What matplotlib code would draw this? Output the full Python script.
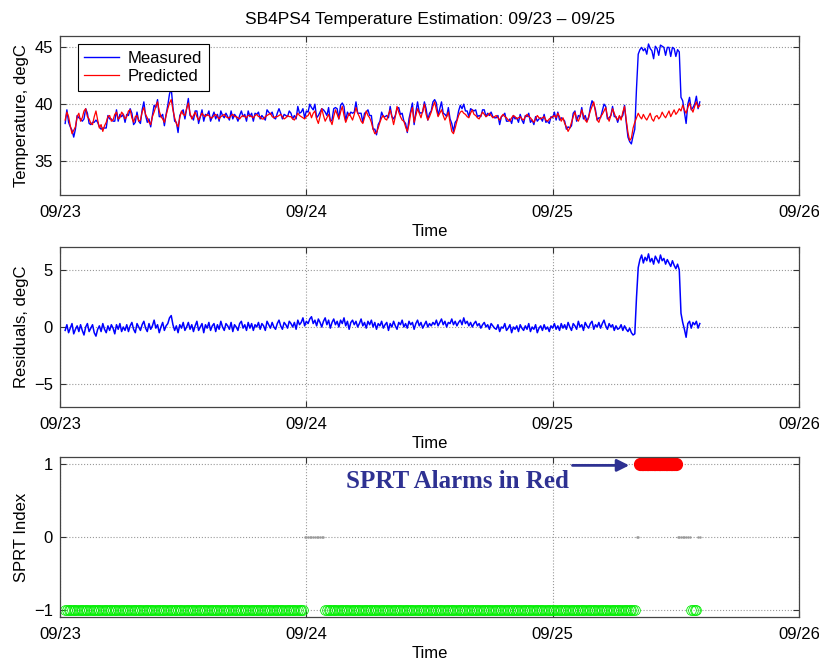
import numpy as np
import matplotlib
matplotlib.use("Agg")
import matplotlib.pyplot as plt

plt.rcParams['font.family'] = ['Liberation Sans', 'DejaVu Sans']

# sampling: every 10 minutes, starting 00:30 on 09/23
start_hour = 0.5
step_min = 10

# predicted temperature (degC), one row per 6 hours
predicted = [
    38.6, 39.3, 38.9, 38.1, 37.4, 37.7, 38.0, 38.9, 39.2, 38.5, 38.8, 39.4, 39.6, 38.9, 38.7, 38.3, 38.2, 38.9,
    39.4, 38.6, 37.9, 38.2, 37.6, 38.1, 38.4, 38.9, 39.0, 38.5, 38.6, 39.1, 39.3, 38.7, 38.8, 39.3, 39.1, 38.7,
    38.9, 39.4, 39.5, 38.8, 38.4, 38.9, 39.0, 38.5, 38.6, 39.3, 39.7, 39.1, 38.8, 38.4, 38.2, 38.9, 39.3, 39.8,
    40.2, 39.4, 38.9, 38.7, 38.4, 39.0, 39.6, 40.1, 40.4, 39.5, 38.8, 38.3, 38.0, 38.8, 39.4, 39.1, 39.0, 39.6,
    40.1, 39.2, 38.7, 39.0, 39.3, 38.9, 38.6, 38.9, 39.2, 39.0, 38.9, 39.1, 39.0, 38.8, 38.8, 39.0, 39.1, 38.9,
    38.7, 38.9, 39.0, 39.1, 38.9, 38.8, 38.8, 39.0, 39.1, 38.9, 38.9, 38.8, 38.7, 38.9, 39.0, 38.9, 38.8, 39.0,
    39.0, 38.9, 38.8, 39.0, 39.1, 38.9, 38.9, 38.7, 38.7, 38.9, 39.0, 39.1, 39.2, 38.9, 38.8, 38.9, 38.9, 39.0,
    39.1, 38.9, 38.7, 38.8, 39.0, 38.9, 38.9, 38.7, 38.6, 38.9, 39.2, 39.0, 38.9, 38.8, 38.7, 38.9, 39.0, 39.3,
    38.8, 39.2, 39.4, 38.7, 38.3, 38.9, 39.6, 39.0, 38.5, 38.8, 39.1, 38.6, 38.2, 38.9, 39.5, 39.1, 38.7, 39.3,
    39.8, 39.0, 38.4, 38.8, 39.2, 38.9, 38.6, 39.1, 39.7, 39.2, 38.9, 38.5, 38.3, 38.8, 39.4, 39.0, 38.8, 38.4,
    37.8, 37.4, 37.5, 37.9, 38.4, 38.8, 39.0, 38.7, 38.6, 39.1, 39.5, 38.9, 38.2, 38.9, 39.8, 39.3, 38.9, 38.6,
    38.5, 38.0, 37.6, 38.2, 39.2, 39.7, 38.4, 39.0, 39.6, 39.2, 38.8, 39.4, 40.0, 39.1, 38.6, 38.9, 39.3, 39.8,
    40.2, 39.5, 38.9, 39.2, 39.5, 39.0, 38.6, 38.9, 39.3, 38.4, 37.6, 37.4, 37.9, 38.5, 39.0, 39.3, 39.4, 39.2,
    39.1, 38.9, 38.8, 39.2, 39.5, 39.1, 39.0, 38.8, 38.7, 39.0, 39.3, 39.1, 38.9, 39.0, 39.2, 39.0, 38.8, 38.9,
    39.0, 38.8, 38.6, 38.9, 39.1, 38.9, 38.8, 38.6, 38.5, 38.8, 39.0, 38.9, 38.7, 38.8, 38.9, 38.7, 38.6, 38.9,
    39.1, 38.9, 38.8, 38.6, 38.4, 38.7, 39.0, 38.8, 38.7, 38.8, 38.9, 38.6, 38.5, 38.7, 38.8, 38.9, 39.0, 38.8,
    39.2, 38.9, 38.5, 38.8, 38.3, 38.0, 37.6, 37.9, 38.4, 38.9, 39.3, 38.7, 38.5, 38.9, 39.5, 39.0, 38.6, 38.4,
    38.9, 39.4, 39.8, 40.2, 39.3, 38.6, 38.4, 38.9, 39.1, 39.4, 39.7, 38.9, 38.5, 39.0, 39.6, 39.2, 38.8, 38.6,
    39.0, 38.6, 39.3, 39.8, 38.6, 37.5, 36.8, 37.0, 37.9, 38.4, 38.8, 39.2, 38.9, 38.7, 39.1, 38.8, 38.6, 38.9,
    39.2, 38.7, 38.5, 38.9, 39.0, 38.7, 38.9, 39.3, 39.0, 38.8, 39.1, 39.4, 38.9, 39.2, 39.5, 39.1, 39.3, 39.6,
    39.4, 39.9, 39.5, 39.2, 39.7, 40.1, 39.6, 39.3, 39.8, 40.2, 39.7, 39.9,
]

# residual = measured - predicted (degC)
residual = [
    -0.3, 0.2, -0.5, -0.1, 0.3, -0.6, -0.2, 0.1, -0.4, 0.2, -0.3, -0.7, 0.0, 0.3, -0.4, -0.1, 0.2, -0.5,
    -0.8, -0.2, 0.1, -0.4, 0.3, -0.2, -0.5, 0.1, -0.3, 0.2, -0.1, -0.6, 0.2, -0.2, 0.3, -0.4, 0.0, -0.3,
    0.2, -0.4, 0.1, 0.4, -0.2, -0.5, 0.3, 0.0, -0.3, 0.2, 0.5, -0.1, -0.4, 0.3, -0.2, 0.1, 0.6, -0.1,
    0.2, -0.5, 0.0, 0.4, -0.3, 0.1, 0.3, 0.8, 1.0, 0.2, -0.3, 0.1, -0.5, 0.2, -0.1, 0.4, -0.3, 0.0,
    0.4, -0.2, 0.2, -0.4, 0.1, 0.5, -0.3, 0.0, 0.3, -0.5, 0.2, -0.1, 0.4, -0.3, 0.1, 0.3, -0.4, 0.2,
    -0.2, 0.5, 0.0, -0.3, 0.3, 0.1, -0.2, 0.4, -0.4, 0.2, 0.0, -0.3, 0.3, 0.5, -0.1, 0.2, -0.3, 0.4,
    -0.1, 0.3, -0.3, 0.2, 0.0, 0.4, -0.2, 0.3, 0.1, -0.3, 0.5, 0.2, -0.1, 0.4, 0.0, -0.2, 0.3, 0.6,
    0.1, -0.2, 0.4, 0.2, -0.1, 0.5, 0.3, 0.0, 0.4, -0.2, 0.6, 0.2, 0.4, 0.8, 0.1, 0.5, 0.3, 0.7,
    0.9, 0.3, 0.6, 0.1, 0.7, 0.4, 0.0, 0.5, 0.8, 0.2, 0.6, -0.1, 0.4, 0.7, 0.2, 0.5, 0.0, 0.6,
    0.3, 0.8, 0.1, 0.5, -0.2, 0.4, 0.6, 0.2, 0.5, 0.0, 0.3, 0.7, 0.1, 0.4, -0.1, 0.5, 0.2, 0.6,
    0.0, 0.4, -0.2, 0.3, 0.1, 0.5, -0.1, 0.2, 0.4, -0.3, 0.3, 0.0, 0.5, 0.1, -0.2, 0.4, 0.2, 0.6,
    0.0, 0.3, -0.1, 0.5, 0.2, 0.4, -0.2, 0.3, 0.6, 0.1, 0.4, -0.1, 0.2, 0.5, 0.0, 0.3, 0.1, 0.4,
    0.2, 0.6, 0.1, 0.4, 0.7, 0.2, 0.5, 0.0, 0.4, 0.3, 0.7, 0.2, 0.5, 0.1, 0.4, 0.6, 0.2, 0.8,
    0.3, 0.5, 0.1, 0.4, 0.0, 0.3, 0.5, 0.1, 0.3, -0.1, 0.2, 0.4, 0.0, 0.2, -0.2, 0.3, 0.1, -0.1,
    -0.2, 0.2, -0.4, 0.0, -0.1, 0.3, -0.3, -0.1, 0.2, -0.5, 0.0, -0.2, 0.1, -0.4, 0.2, -0.1, -0.3, 0.1,
    -0.2, 0.3, -0.4, 0.0, -0.2, 0.2, -0.5, -0.1, 0.1, -0.3, 0.2, -0.2, 0.0, -0.4, 0.1, -0.1, 0.3, -0.2,
    0.1, -0.3, 0.3, -0.1, 0.2, -0.2, 0.4, 0.0, -0.3, 0.3, 0.1, -0.2, 0.5, 0.0, 0.2, -0.3, 0.4, 0.1,
    -0.1, 0.3, 0.5, -0.2, 0.2, 0.0, 0.4, -0.1, 0.3, 0.6, 0.1, -0.2, 0.3, 0.0, 0.2, -0.3, 0.1, -0.2,
    -0.1, 0.2, -0.3, 0.1, -0.2, -0.4, -0.1, -0.5, -0.7, -0.6, 2.6, 5.2, 5.9, 6.3, 5.6, 6.1, 5.8, 6.4,
    5.7, 6.0, 5.5, 6.2, 5.9, 5.6, 6.3, 5.8, 6.0, 5.5, 5.9, 5.6, 5.3, 5.8, 5.4, 5.1, 5.5, 5.0,
    1.2, 0.4, -0.2, -0.9, 0.3, 0.5, -0.1, 0.4, 0.2, 0.5, -0.1, 0.3,
]

# SPRT index as (value, number of samples): -1 normal, 1 alarm, 0 no decision
sprt_runs = [(-1, 140), (0, 12), (-1, 182), (0, 2), (1, 22), (0, 8), (-1, 4), (0, 2)]

day_ticks = [0, 1, 2, 3]
day_labels = ['09/23', '09/24', '09/25', '09/26']

predicted = np.array(predicted)
residual = np.array(residual)
measured = predicted + residual
n = len(predicted)
t = (start_hour + np.arange(n) * step_min / 60.0) / 24.0
sprt = np.concatenate([np.full(k, v) for v, k in sprt_runs])

fig = plt.figure(figsize=(8.19, 6.61), dpi=100)
W = 0.9023
ax1 = fig.add_axes([0.0733, 0.705, W, 0.2405])
ax2 = fig.add_axes([0.0733, 0.3843, W, 0.242])
ax3 = fig.add_axes([0.0733, 0.0666, W, 0.242])


def style(ax, yticks, ylim, ylabel):
    ax.set_xlim(0, 3)
    ax.set_ylim(*ylim)
    ax.set_xticks(day_ticks)
    ax.set_xticklabels(day_labels)
    ax.set_yticks(yticks)
    ax.tick_params(direction='in', top=True, right=True, labelsize=12,
                   length=4, width=0.8, color='#333333')
    ax.tick_params(axis='x', pad=7)
    ax.tick_params(axis='y', pad=5)
    ax.grid(True, linestyle=':', color='#999999', linewidth=0.8)
    for s in ax.spines.values():
        s.set_color('#444444')
        s.set_linewidth(0.9)
    ax.set_xlabel('Time', fontsize=12, labelpad=3)
    ax.set_ylabel(ylabel, fontsize=12, labelpad=4)


ax1.plot(t, measured, color='#0000ff', linewidth=1.0, label='Measured')
ax1.plot(t, predicted, color='#ff0000', linewidth=0.9, label='Predicted')
style(ax1, [35, 40, 45], (32, 46), 'Temperature, degC')
ax1.set_title('SB4PS4 Temperature Estimation: 09/23 \u2013 09/25', fontsize=12.5, pad=9)
leg = ax1.legend(loc='upper left', bbox_to_anchor=(0.024, 0.95), borderaxespad=0,
                 fancybox=False, edgecolor='black', fontsize=12, handlelength=2.1,
                 handletextpad=0.5, labelspacing=0.2, borderpad=0.4, framealpha=1)
leg.get_frame().set_linewidth(0.8)

ax2.plot(t, residual, color='#0000ff', linewidth=1.1)
style(ax2, [-5, 0, 5], (-7, 7), 'Residuals, degC')

ok = sprt == -1
alarm = sprt == 1
none = sprt == 0
ax3.plot(t[ok], sprt[ok], 'o', markersize=7, markerfacecolor='none',
         markeredgecolor='#00ee00', markeredgewidth=0.6)
ax3.plot(t[none], sprt[none], '.', markersize=1.5, color='#999999')
ax3.plot(t[alarm], sprt[alarm], 'o', markersize=8.5, color='#ff0000')
style(ax3, [-1, 0, 1], (-1.1, 1.1), 'SPRT Index')

ax3.text(1.159, 0.77, 'SPRT Alarms in Red', fontsize=18, fontweight='bold',
         family=['Liberation Serif', 'DejaVu Serif'], color='#2e3192',
         ha='left', va='center')
ax3.annotate('', xy=(2.322, 0.985), xytext=(2.069, 0.985),
             arrowprops=dict(arrowstyle='-|>', color='#2e3192', lw=2,
                             mutation_scale=18))

fig.savefig('out.png', dpi=100)
